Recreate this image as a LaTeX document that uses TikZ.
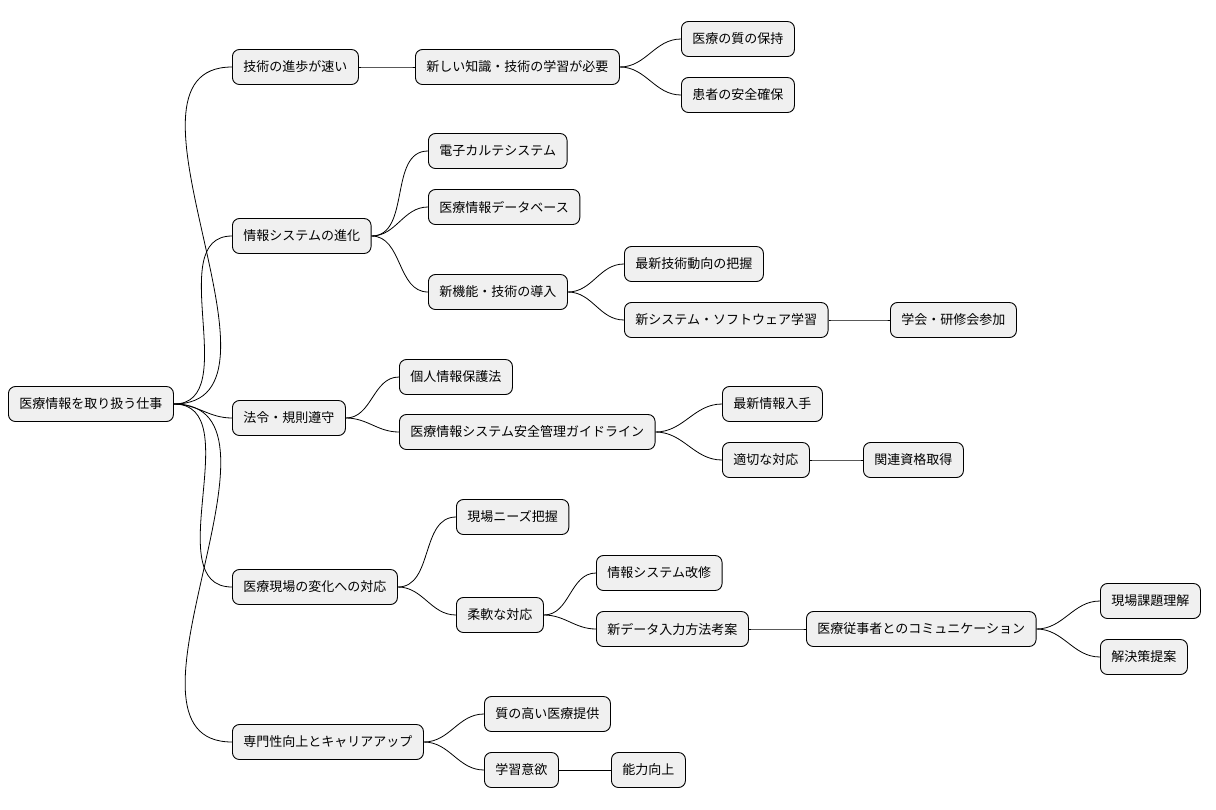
\documentclass[tikz,border=0pt]{standalone}
\usepackage{fontspec}
\setmainfont{Noto Sans CJK JP}
\begin{document}
\begin{tikzpicture}[x=1pt,y=-1pt,
  box/.style={draw=black,fill=black!6,rounded corners=7pt,minimum height=35pt,inner xsep=11pt,anchor=west,line width=0.9pt,font=\fontsize{13}{15}\selectfont},
  link/.style={line width=0.8pt,out=0,in=180}]
\useasboundingbox (0,0) rectangle (1216,809);
\node[box] (r) at (8,404) {医療情報を取り扱う仕事};
\node[box] (a) at (232,67) {技術の進歩が速い};
\node[box] (b) at (232,236) {情報システムの進化};
\node[box] (c) at (232,418) {法令・規則遵守};
\node[box] (d) at (232,587) {医療現場の変化への対応};
\node[box] (e) at (232,742) {専門性向上とキャリアアップ};
\node[box] (a1) at (415,67) {新しい知識・技術の学習が必要};
\node[box] (a11) at (681,39) {医療の質の保持};
\node[box] (a12) at (681,95) {患者の安全確保};
\node[box] (b1) at (428,151) {電子カルテシステム};
\node[box] (b2) at (428,207) {医療情報データベース};
\node[box] (b3) at (428,292) {新機能・技術の導入};
\node[box] (b31) at (624,264) {最新技術動向の把握};
\node[box] (b32) at (624,320) {新システム・ソフトウェア学習};
\node[box] (b321) at (890,320) {学会・研修会参加};
\node[box] (c1) at (399,377) {個人情報保護法};
\node[box] (c2) at (399,432) {医療情報システム安全管理ガイドライン};
\node[box] (c21) at (722,404) {最新情報入手};
\node[box] (c22) at (722,460) {適切な対応};
\node[box] (c221) at (863,460) {関連資格取得};
\node[box] (d1) at (456,517) {現場ニーズ把握};
\node[box] (d2) at (456,615) {柔軟な対応};
\node[box] (d21) at (596,573) {情報システム改修};
\node[box] (d22) at (596,629) {新データ入力方法考案};
\node[box] (d221) at (806,629) {医療従事者とのコミュニケーション};
\node[box] (d2211) at (1100,601) {現場課題理解};
\node[box] (d2212) at (1100,657) {解決策提案};
\node[box] (e1) at (484,714) {質の高い医療提供};
\node[box] (e2) at (484,770) {学習意欲};
\node[box] (e21) at (611,770) {能力向上};
\foreach \p/\c in {r/a,r/b,r/c,r/d,r/e,a/a1,a1/a11,a1/a12,b/b1,b/b2,b/b3,b3/b31,b3/b32,b32/b321,
 c/c1,c/c2,c2/c21,c2/c22,c22/c221,d/d1,d/d2,d2/d21,d2/d22,d22/d221,d221/d2211,d221/d2212,e/e1,e/e2,e2/e21}
  \draw[link] (\p.east) to (\c.west);
\end{tikzpicture}
\end{document}
